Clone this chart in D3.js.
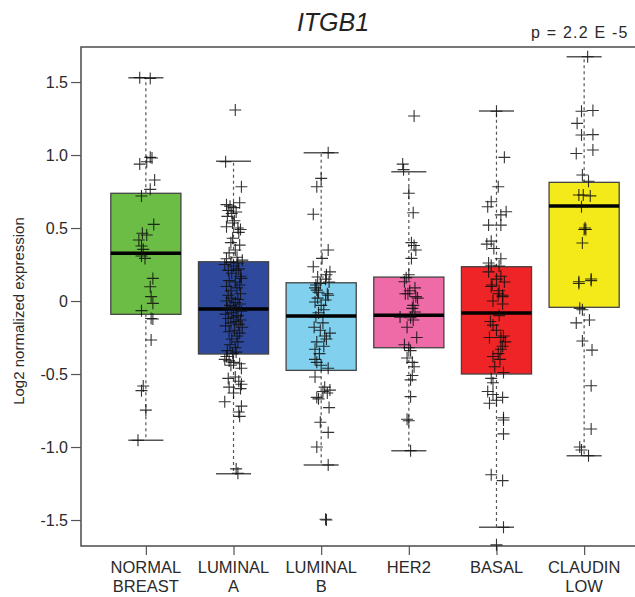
<!DOCTYPE html>
<html><head><meta charset="utf-8">
<script src="https://cdn.jsdelivr.net/npm/d3@7"></script>
<style>body{margin:0;background:#fff}svg{display:block}text{font-family:"Liberation Sans",Arial,sans-serif}</style>
</head><body><svg id="c" width="635" height="597"></svg>
<script>
const categories = [["NORMAL","BREAST"],["LUMINAL","A"],["LUMINAL","B"],["HER2"],["BASAL"],["CLAUDIN","LOW"]];
const colors = ["#6cbd45","#2f4a9d","#80d0ee","#ef6ba7","#ee2426","#f4ea1a"];
const q1 = [-0.091,-0.363,-0.475,-0.32,-0.5,-0.043];
const medians = [0.327,-0.055,-0.103,-0.098,-0.082,0.651];
const q3 = [0.738,0.269,0.125,0.164,0.235,0.813];
const whiskerLow = [-0.954,-1.183,-1.123,-1.025,-1.55,-1.06];
const whiskerHigh = [1.53,0.957,1.016,0.886,1.301,1.673];
const yTicks = [-1.5,-1,-0.5,0,0.5,1,1.5];
const yTickLabels = ["-1.5","-1.0","-0.5","0","0.5","1.0","1.5"];
// points: [value, horizontal jitter in category units]
const normalPts = [[1.53,-0.07],[1.525,0.05],[0.984,0.05],[0.938,-0.07],[0.954,0.01],[0.98,0.07],[0.829,0.10],[0.765,0.05],[0.719,-0.05],[0.525,0.09],[0.464,-0.04],[0.452,0.01],[0.418,-0.08],[0.377,-0.05],[0.354,-0.03],[0.308,-0.05],[0.292,-0.01],[0.155,0.08],[0.098,0.05],[0.03,0.06],[-0.016,0.08],[-0.066,-0.05],[-0.123,0.08],[-0.12,0.06],[-0.267,0.06],[-0.582,-0.03],[-0.614,-0.05],[-0.747,0.0],[-0.954,-0.09]];
const lumAPts = [[1.308,0.02],[0.954,-0.09],[0.783,0.09],[0.673,0.07],[0.66,-0.08],[0.65,-0.04],[0.64,0.0],[0.62,-0.06],[0.61,0.03],[0.60,-0.02],[0.58,-0.07],[0.55,0.01],[0.534,-0.01],[0.509,-0.08],[0.5,0.05],[0.49,0.08],[0.47,0.06],[0.43,-0.01],[0.40,-0.03],[0.383,0.07],[0.35,0.02],[0.33,-0.05],[0.30,0.04],
[0.29,-0.08],[0.28,0.10],[0.265,-0.03],[0.26,0.05],[0.25,-0.1],[0.24,0.0],[0.22,0.06],[0.21,-0.06],[0.21,0.03],[0.19,-0.02],[0.17,0.08],[0.155,0.09],[0.14,-0.05],[0.13,0.02],[0.11,0.07],[0.10,-0.08],[0.09,0.04],[0.07,-0.03],[0.05,0.08],[0.04,-0.06],[0.02,-0.02],[0.01,0.05],[0.0,-0.08],[-0.01,0.02],[-0.02,0.07],[-0.03,-0.04],[-0.04,0.0],[-0.05,-0.07],[-0.06,0.03],[-0.07,0.09],[-0.08,-0.02],[-0.09,-0.09],[-0.10,0.05],[-0.11,0.0],[-0.12,-0.06],[-0.13,0.08],[-0.14,0.03],[-0.15,-0.03],[-0.16,0.06],[-0.17,-0.09],[-0.18,0.1],[-0.20,0.01],[-0.21,-0.05],[-0.22,0.07],[-0.24,0.04],[-0.26,-0.02],[-0.28,0.05],[-0.30,-0.04],[-0.32,0.02],[-0.34,-0.07],[-0.35,0.03],[-0.36,-0.01],
[-0.38,-0.08],[-0.40,-0.1],[-0.41,-0.05],[-0.42,0.0],[-0.43,0.07],[-0.44,-0.03],[-0.46,0.09],[-0.52,0.02],[-0.53,-0.06],[-0.55,0.06],[-0.57,0.09],[-0.59,-0.05],[-0.60,0.08],[-0.63,0.0],[-0.69,-0.1],[-0.72,0.09],[-0.76,0.06],[-0.79,0.07],[-1.15,0.03],[-1.18,0.05]];
const lumBPts = [[1.016,0.08],[0.84,0.0],[0.783,-0.05],[0.594,-0.09],[0.349,0.08],[0.292,0.01],[0.235,-0.09],[0.2,0.1],[0.18,0.06],[0.165,-0.04],[0.15,0.05],[0.13,0.09],[0.11,-0.06],[0.09,-0.07],[0.075,-0.05],[0.06,-0.03],[0.04,0.08],[0.12,-0.01],[0.05,0.07],[0.007,0.05],[-0.007,-0.07],[-0.03,0.0],[-0.06,0.03],[-0.08,-0.03],[-0.11,-0.06],[-0.2,-0.01],[-0.22,0.1],[-0.26,0.06],[-0.28,-0.05],[-0.33,-0.07],[-0.36,-0.02],[-0.4,-0.07],[-0.42,-0.05],[-0.46,0.08],[-0.52,-0.07],[-0.59,0.04],[-0.61,0.1],[-0.62,0.02],[-0.63,0.07],[-0.66,-0.05],[-0.67,-0.03],[-0.73,0.09],[-0.83,-0.01],[-0.9,0.08],[-1.0,-0.05],[-1.123,0.08],[-1.495,0.05],[-1.5,0.06],[0.02,-0.04],[-0.15,0.02],[-0.18,-0.08],[-0.24,0.04],[-0.31,0.03],[-0.44,0.0]];
const her2Pts = [[1.267,0.06],[0.938,-0.07],[0.9,-0.06],[0.738,0.0],[0.605,0.05],[0.4,0.03],[0.38,0.06],[0.35,0.08],[0.292,0.03],[0.18,0.0],[0.16,-0.03],[0.07,0.01],[0.03,0.08],[0.05,-0.04],[0.132,-0.05],[0.05,-0.01],[0.02,0.1],[-0.03,0.05],[-0.05,0.04],[-0.075,0.07],[-0.11,-0.1],[-0.115,0.02],[-0.13,0.05],[-0.25,0.09],[-0.3,-0.05],[-0.32,0.0],[-0.34,0.02],[-0.39,-0.02],[-0.42,0.04],[-0.45,0.06],[-0.51,0.04],[-0.54,0.02],[-0.655,0.02],[-0.81,-0.02],[-0.82,0.0],[-1.025,0.02],[0.09,0.07],[-0.18,-0.02]];
const basalPts = [[1.3,0.0],[0.984,0.09],[0.783,0.02],[0.68,-0.06],[0.646,-0.1],[0.612,0.11],[0.59,0.05],[0.52,0.05],[0.52,-0.09],[0.41,-0.06],[0.39,-0.11],[0.36,-0.03],[0.29,0.05],[0.26,-0.09],[0.245,-0.06],[0.24,0.03],[0.2,-0.09],[0.17,0.05],[0.1,-0.06],[0.07,0.03],[0.04,0.07],[0.11,-0.05],[0.05,0.02],[0.03,0.07],[0.0,-0.04],[-0.02,0.07],[-0.14,-0.07],[-0.165,-0.04],[-0.25,-0.08],[-0.25,0.05],[-0.24,0.08],[-0.31,0.07],[-0.33,0.05],[-0.38,-0.04],[-0.4,0.04],[-0.49,0.08],[-0.53,-0.06],[-0.56,-0.04],[-0.62,-0.1],[-0.64,-0.04],[-0.66,0.07],[-0.7,-0.08],[-0.68,0.0],[-0.8,0.08],[-0.815,0.08],[-0.91,0.08],[-1.19,-0.06],[-1.23,0.07],[-1.55,0.08],[-1.67,0.0],[0.15,0.0],[0.13,0.09],[-0.1,0.03],[-0.2,0.0],[-0.28,0.1],[-0.36,0.02],[-0.45,-0.02]];
const claudinPts = [[1.673,0.04],[1.3,-0.03],[1.305,0.1],[1.217,-0.08],[1.137,-0.03],[1.14,0.1],[1.034,0.1],[1.01,-0.09],[0.863,-0.02],[0.82,0.05],[0.726,-0.06],[0.726,-0.01],[0.72,0.07],[0.646,-0.03],[0.49,0.0],[0.49,0.02],[0.5,0.01],[0.397,-0.02],[0.132,-0.06],[0.151,0.08],[0.12,-0.06],[0.14,0.08],[-0.05,-0.05],[-0.06,-0.02],[-0.13,0.06],[-0.15,-0.09],[-0.274,-0.02],[-0.336,0.09],[-0.58,0.08],[-0.877,0.08],[-1.0,-0.05],[-1.02,-0.03],[-1.06,0.05]];
const groupPoints = [normalPts,lumAPts,lumBPts,her2Pts,basalPts,claudinPts];

const svg = d3.select("#c");
const x = d3.scaleLinear().domain([0.26,6.74]).range([81,649]);
const y = d3.scaleLinear().domain([-1.678,1.74]).range([546,47]);
const boxW = 0.8, capW = 0.4;
const txt = "#2a2a2a", axc = "#555";

// title
svg.append("text").attr("x",333).attr("y",31).attr("text-anchor","middle")
  .attr("font-size",25).attr("font-style","italic").attr("fill","#222").text("ITGB1");
svg.append("text").attr("x",531).attr("y",38).attr("font-size",16).attr("letter-spacing",1.2)
  .attr("fill",txt).text("p = 2.2 E -5");

// y axis
const yAxis = d3.axisLeft(y).tickValues(yTicks).tickSize(10).tickPadding(3)
  .tickFormat((d,i)=>yTickLabels[i]);
const ga = svg.append("g").attr("transform","translate(81,0)").call(yAxis);
ga.select(".domain").remove();
ga.selectAll("line").attr("stroke",axc).attr("stroke-width",1.2);
ga.selectAll("text").attr("font-size",16).attr("fill",txt).style("font-family","Liberation Sans, Arial, sans-serif");
svg.append("text").attr("transform","translate(24,311) rotate(-90)").attr("text-anchor","middle")
  .attr("font-size",15).attr("fill",txt).text("Log2 normalized expression");

// x axis
const xAxis = d3.axisBottom(x).tickValues(d3.range(1,7)).tickSize(9).tickFormat("");
const gx = svg.append("g").attr("transform","translate(0,546)").call(xAxis);
gx.select(".domain").remove();
gx.selectAll("line").attr("stroke",axc).attr("stroke-width",1.2);
categories.forEach((lines,i)=>{
  const t = svg.append("text").attr("x",x(i+1)).attr("y",573).attr("text-anchor","middle")
    .attr("font-size",16.5).attr("fill",txt);
  lines.forEach((l,j)=>t.append("tspan").attr("x",x(i+1)).attr("dy",j?18.5:0).text(l));
});

// frame
svg.append("rect").attr("x",81).attr("y",47).attr("width",568).attr("height",499)
  .attr("fill","none").attr("stroke",axc).attr("stroke-width",1.6);

const idx = d3.range(6);
// whiskers
const g = svg.append("g");
g.selectAll(".wu").data(idx).join("line").attr("x1",i=>x(i+1)).attr("x2",i=>x(i+1))
  .attr("y1",i=>y(q3[i])).attr("y2",i=>y(whiskerHigh[i])).attr("stroke","#555").attr("stroke-dasharray","3,3").attr("stroke-width",1.2);
g.selectAll(".wl").data(idx).join("line").attr("x1",i=>x(i+1)).attr("x2",i=>x(i+1))
  .attr("y1",i=>y(q1[i])).attr("y2",i=>y(whiskerLow[i])).attr("stroke","#555").attr("stroke-dasharray","3,3").attr("stroke-width",1.2);
["h","l"].forEach(k=>{
  g.selectAll(".cap"+k).data(idx).join("line")
    .attr("x1",i=>x(i+1-capW/2)).attr("x2",i=>x(i+1+capW/2))
    .attr("y1",i=>y(k==="h"?whiskerHigh[i]:whiskerLow[i])).attr("y2",i=>y(k==="h"?whiskerHigh[i]:whiskerLow[i]))
    .attr("stroke","#555").attr("stroke-width",1.5);
});
// boxes
g.selectAll(".box").data(idx).join("rect")
  .attr("x",i=>x(i+1-boxW/2)).attr("width",i=>x(i+1+boxW/2)-x(i+1-boxW/2))
  .attr("y",i=>y(q3[i])).attr("height",i=>y(q1[i])-y(q3[i]))
  .attr("fill",i=>colors[i]).attr("stroke","#444").attr("stroke-width",1.3);
g.selectAll(".med").data(idx).join("line")
  .attr("x1",i=>x(i+1-boxW/2)).attr("x2",i=>x(i+1+boxW/2))
  .attr("y1",i=>y(medians[i])).attr("y2",i=>y(medians[i]))
  .attr("stroke","#000").attr("stroke-width",3.5);

// points
const ps = 6;
groupPoints.forEach((pts,i)=>{
  const gp = svg.append("g").attr("stroke","#111").attr("stroke-width",1.1).attr("stroke-opacity",0.85);
  gp.selectAll("path").data(pts).join("path")
    .attr("d",d=>{const cx=x(i+1+d[1]), cy=y(d[0]);
      return `M${cx-ps},${cy}H${cx+ps}M${cx},${cy-ps}V${cy+ps}`;});
});
</script></body></html>
